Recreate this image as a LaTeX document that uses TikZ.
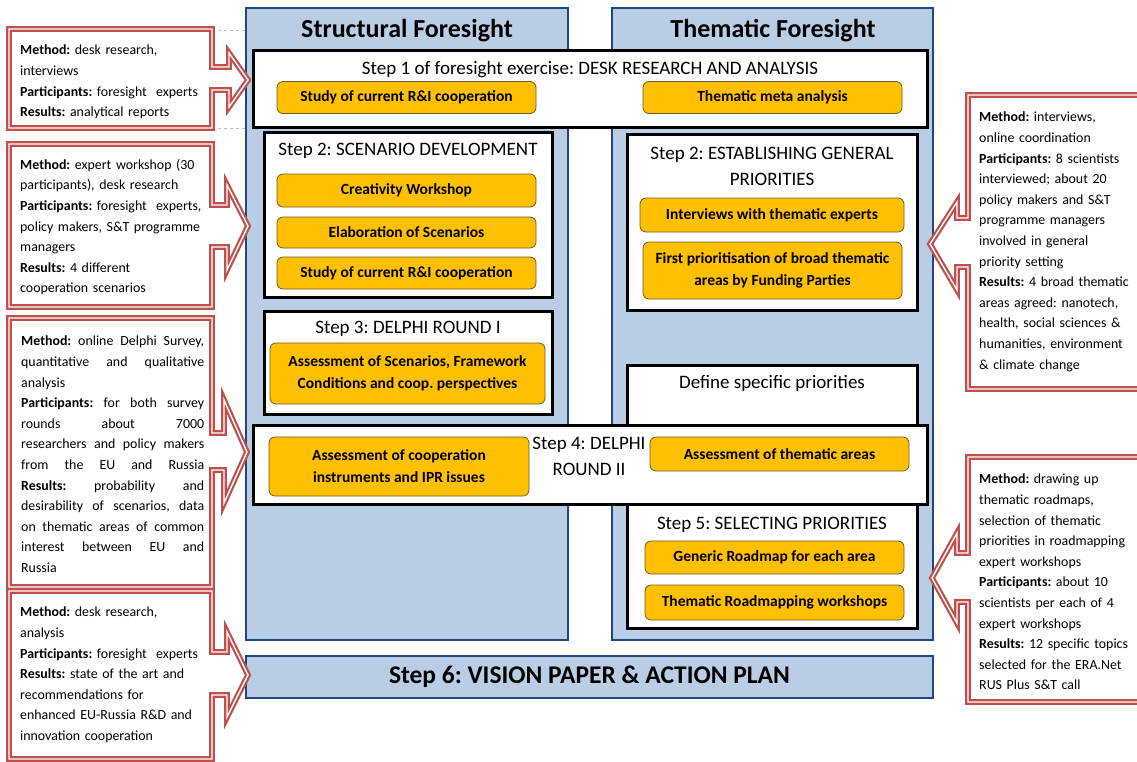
\documentclass[tikz,border=0pt]{standalone}
\usepackage{fontspec}
\setmainfont{Carlito}
\frenchspacing
\definecolor{colfill}{HTML}{B9CDE5}
\definecolor{coldraw}{HTML}{1F497D}
\definecolor{taskfill}{HTML}{FFC000}
\definecolor{taskdraw}{HTML}{6B5A2A}
\definecolor{callred}{HTML}{C0504D}
\begin{document}
\begin{tikzpicture}[x=1pt,y=-1pt]

    \tikzset{
      column/.style={
        draw=coldraw,
        fill=colfill,
        line width=2.5pt,
        inner sep=0pt,
      },
      stepbox/.style={
        draw=black,
        fill=white,
        line width=3pt,
        inner sep=0pt,
      },
      task/.style={
        draw=taskdraw,
        fill=taskfill,
        rounded corners=6pt,
        line width=0.8pt,
        minimum width=259pt,
        minimum height=32pt,
        align=center,
        inner sep=2pt,
        font=\fontsize{15.5}{22}\selectfont\bfseries,
      },
      steptitle/.style={
        align=center,
        font=\fontsize{19}{26}\selectfont,
      },
      coltitle/.style={
        font=\fontsize{26}{30}\selectfont\bfseries,
      },
      callout/.style={
        draw=callred,
        fill=white,
        line width=2.2pt,
        double=white,
        double distance=1.4pt,
        line join=miter,
      },
      calltext/.style={
        anchor=north west,
        inner sep=0pt,
        align=left,
        font=\fontsize{13.9}{20.6}\selectfont,
      },
    }
    \useasboundingbox (0,0) rectangle (1137,761);

    % columns
    \node[column, minimum width=322pt, minimum height=632pt] (structcol) at (407,324) {};
    \node[column, minimum width=321pt, minimum height=632pt] (themcol) at (772.5,324) {};
    \node[coltitle] (structtitle) at (407,31) {Structural Foresight};
    \node[coltitle] (themtitle) at (773,31) {Thematic Foresight};
    \node[column, minimum width=687pt, minimum height=42pt] (step6) at (589.5,677)
      {\fontsize{25.5}{28}\selectfont\bfseries Step 6: VISION PAPER \& ACTION PLAN};

    % step boxes
    \node[stepbox, minimum width=674pt, minimum height=77pt] (step1) at (590,88.5) {};
    \node[steptitle] (step1title) at (590,70) {Step 1 of foresight exercise: DESK RESEARCH AND ANALYSIS};
    \node[task] (studyA) at (406.5,97.5) {Study of current R\&I cooperation};
    \node[task] (metaan) at (772.5,97.5) {Thematic meta analysis};

    \node[stepbox, minimum width=288pt, minimum height=165pt] (step2s) at (408,214.5) {};
    \node[steptitle] (step2stitle) at (408,151) {Step 2: SCENARIO DEVELOPMENT};
    \node[task, minimum height=33pt] (creat) at (406.5,190.5) {Creativity Workshop};
    \node[task, minimum height=31pt] (elab) at (406.5,232.5) {Elaboration of Scenarios};
    \node[task] (studyB) at (406.5,273) {Study of current R\&I cooperation};

    \node[stepbox, minimum width=290pt, minimum height=176pt] (step2t) at (772,222) {};
    \node[steptitle] (step2ttitle) at (772,166) {Step 2: ESTABLISHING GENERAL\\PRIORITIES};
    \node[task, minimum width=264pt, minimum height=34pt] (interv) at (772,215) {Interviews with thematic experts};
    \node[task, minimum height=57pt] (firstprio) at (772.5,270.5) {First prioritisation of broad thematic\\areas by Funding Parties};

    \node[stepbox, minimum width=288pt, minimum height=103pt] (step3) at (408,362.5) {};
    \node[steptitle] (step3title) at (408,329) {Step 3: DELPHI ROUND I};
    \node[task, minimum width=275pt, minimum height=61pt] (assessscen) at (407.5,373.5) {Assessment of Scenarios, Framework\\Conditions and coop. perspectives};

    \node[stepbox, minimum width=290pt, minimum height=263pt] (step5) at (772,496.5) {};
    \node[steptitle] (definetitle) at (772,383) {Define specific priorities};
    \node[steptitle] (step5title) at (772,525) {Step 5: SELECTING PRIORITIES};
    \node[task, minimum height=33pt] (generic) at (774.5,557.5) {Generic Roadmap for each area};
    \node[task, minimum height=35pt] (roadmapws) at (774.5,602.5) {Thematic Roadmapping workshops};

    \node[stepbox, minimum width=674pt, minimum height=79pt] (step4) at (590,464.5) {};
    \node[steptitle] (step4title) at (589,456) {Step 4: DELPHI\\ROUND II};
    \node[task, minimum width=260pt, minimum height=59pt] (assesscoop) at (399,466.5) {Assessment of cooperation\\instruments and IPR issues};
    \node[task, minimum height=34pt] (assesstheme) at (779.5,454) {Assessment of thematic areas};

    % callouts on the left
    \draw[gray!50, dashed, line width=0.8pt] (212,30) -- (246,30);
    \draw[gray!50, dashed, line width=0.8pt] (212,128) -- (246,128);
    \draw[callout] (9,29) -- (212,29) -- (212,67) -- (229,67) -- (229,53) -- (248,80)
      -- (229,107) -- (229,90) -- (212,90) -- (212,128) -- (9,128) -- cycle;
    \draw[callout] (9,144) -- (212,144) -- (212,205) -- (227,205) -- (227,185) -- (248,226)
      -- (227,270) -- (227,247) -- (212,247) -- (212,307) -- (9,307) -- cycle;
    \draw[callout] (9,318) -- (212,318) -- (212,433) -- (224,433) -- (224,400) -- (247,452)
      -- (224,503) -- (224,470) -- (212,470) -- (212,587) -- (9,587) -- cycle;
    \draw[callout] (9,591) -- (212,591) -- (212,652) -- (227,652) -- (227,632) -- (248,675)
      -- (227,717) -- (227,695) -- (212,695) -- (212,759) -- (9,759) -- cycle;

    % callouts on the right
    \draw[callout] (1145,95) -- (968,95) -- (968,218) -- (957,218) -- (957,202) -- (930,244)
      -- (957,290) -- (957,267) -- (968,267) -- (968,389) -- (1145,389);
    \draw[callout] (1145,457) -- (968,457) -- (968,553) -- (957,553) -- (957,533) -- (932,578)
      -- (957,623) -- (957,602) -- (968,602) -- (968,702) -- (1145,702);

    % callout texts
    \node[calltext, text width=196pt] (textA) at (20,45)
      {\textbf{Method:} desk research,\\interviews\\\textbf{Participants:} foresight\ \ experts\\\textbf{Results:} analytical reports};
    \node[calltext, text width=196pt] (textB) at (20,159)
      {\textbf{Method:} expert workshop (30\\participants), desk research\\\textbf{Participants:} foresight\ \ experts,\\policy makers, S\&T programme\\managers\\\textbf{Results:} 4 different\\cooperation scenarios};
    \node[calltext, text width=183pt, align=justify] (textC) at (21,336)
      {\textbf{Method:} online Delphi Survey,\linebreak quantitative and qualitative\linebreak analysis\\\textbf{Participants:} for both survey\linebreak rounds about 7000\linebreak researchers and policy makers\linebreak from the EU and Russia\linebreak \textbf{Results:} probability and\linebreak desirability of scenarios, data\linebreak on thematic areas of common\linebreak interest between EU and\linebreak Russia};
    \node[calltext, text width=196pt] (textD) at (20,607)
      {\textbf{Method:} desk research,\\analysis\\\textbf{Participants:} foresight\ \ experts\\\textbf{Results:} state of the art and\\recommendations for\\enhanced EU-Russia R\&D and\\innovation cooperation};
    \node[calltext, text width=166pt] (textE) at (979,112)
      {\textbf{Method:} interviews,\\online coordination\\\textbf{Participants:} 8 scientists\\interviewed; about 20\\policy makers and S\&T\\programme managers\\involved in general\\priority setting\\\textbf{Results:} 4 broad thematic\\areas agreed: nanotech,\\health, social sciences \&\\humanities, environment\\\& climate change};
    \node[calltext, text width=166pt] (textF) at (979,474)
      {\textbf{Method:} drawing up\\thematic roadmaps,\\selection of thematic\\priorities in roadmapping\\expert workshops\\\textbf{Participants:} about 10\\scientists per each of 4\\expert workshops\\\textbf{Results:} 12 specific topics\\selected for the ERA.Net\\RUS Plus S\&T call};

\end{tikzpicture}
\end{document}
